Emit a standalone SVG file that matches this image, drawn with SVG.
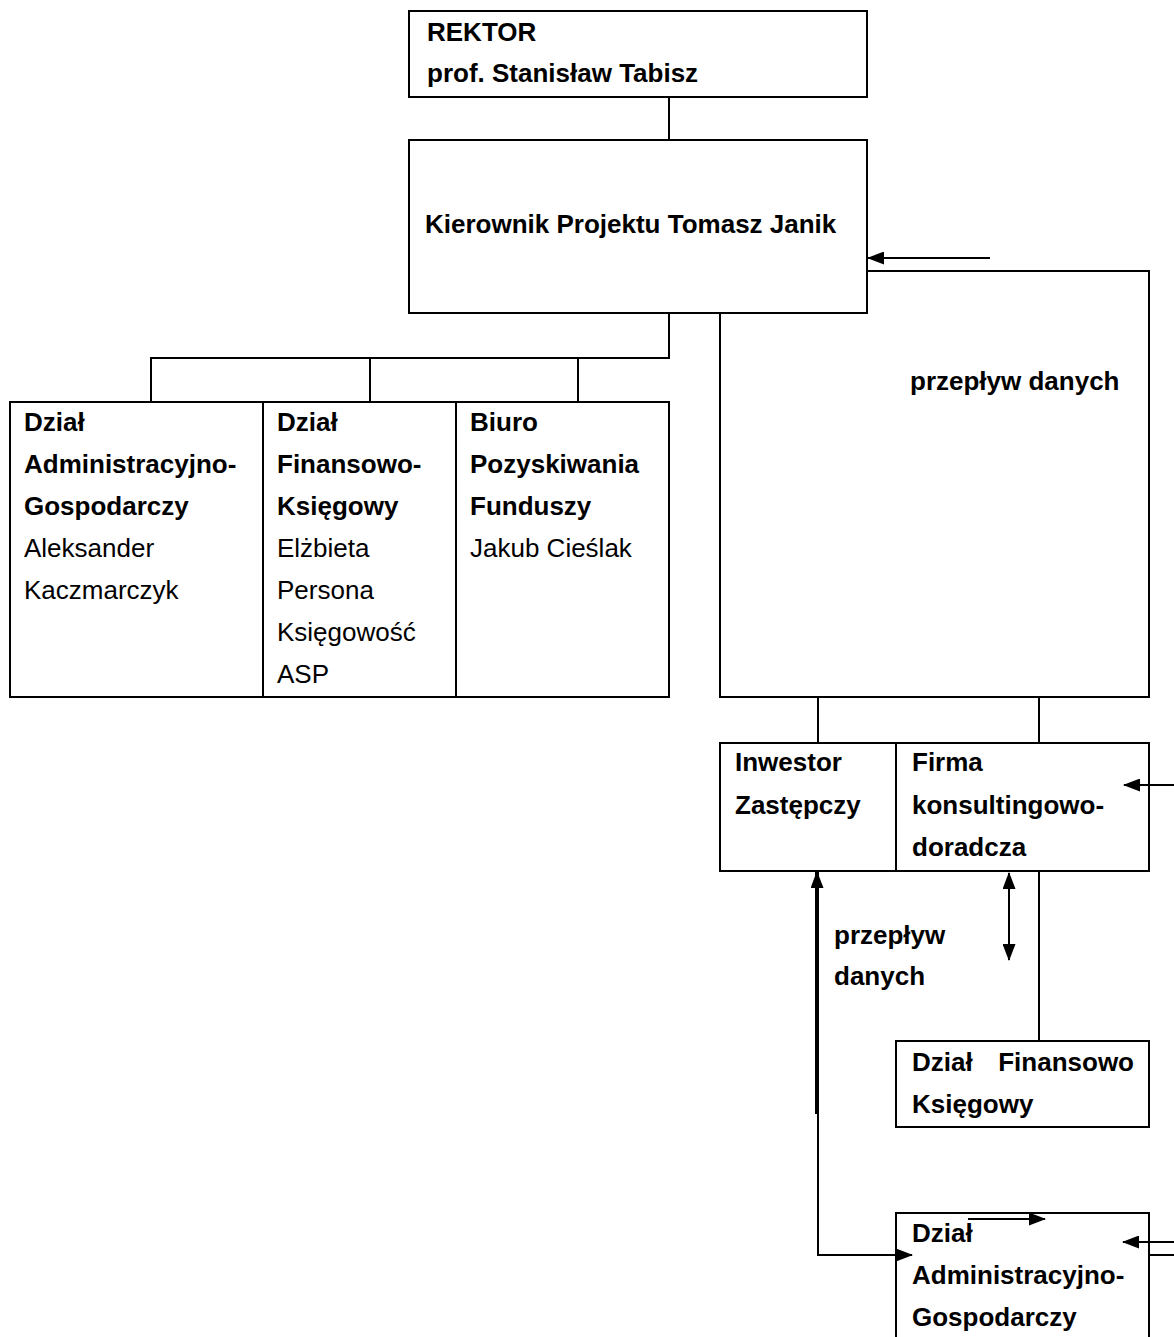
<svg xmlns="http://www.w3.org/2000/svg" width="1174" height="1337" viewBox="0 0 1174 1337">
<style>
  .box{fill:#fff;stroke:#000;stroke-width:2}
  .ln{fill:none;stroke:#000;stroke-width:2}
  .thick{fill:none;stroke:#000;stroke-width:4}
  text{font-family:"Liberation Sans",Arial,sans-serif;font-size:26px;fill:#000}
  .b{font-weight:bold}
</style>
<defs>
  <marker id="ah" markerWidth="17" markerHeight="13" refX="16" refY="6.5" orient="auto" markerUnits="userSpaceOnUse">
    <path d="M0,0 L17,6.5 L0,13 Z" fill="#000"/>
  </marker>
  <marker id="ahs" markerWidth="17" markerHeight="13" refX="1" refY="6.5" orient="auto" markerUnits="userSpaceOnUse">
    <path d="M17,0 L0,6.5 L17,13 Z" fill="#000"/>
  </marker>
</defs>
<rect width="1174" height="1337" fill="#fff"/>

<g id="rektor">
  <rect class="box" x="409" y="11" width="458" height="86"/>
  <text class="b" x="427" y="41">REKTOR</text>
  <text class="b" x="427" y="82">prof. Stanisław Tabisz</text>
</g>

<g id="kierownik">
  <rect class="box" x="409" y="140" width="458" height="173"/>
  <text class="b" x="425" y="233">Kierownik Projektu Tomasz Janik</text>
</g>

<g id="dzialy">
  <rect class="box" x="10" y="402" width="659" height="295"/>
  <line class="ln" x1="263" y1="402" x2="263" y2="697"/>
  <line class="ln" x1="456" y1="402" x2="456" y2="697"/>
  <g id="dzial-admin">
    <text class="b" x="24" y="431">Dział</text>
    <text class="b" x="24" y="473">Administracyjno-</text>
    <text class="b" x="24" y="515">Gospodarczy</text>
    <text x="24" y="557">Aleksander</text>
    <text x="24" y="599">Kaczmarczyk</text>
  </g>
  <g id="dzial-fin">
    <text class="b" x="277" y="431">Dział</text>
    <text class="b" x="277" y="473">Finansowo-</text>
    <text class="b" x="277" y="515">Księgowy</text>
    <text x="277" y="557">Elżbieta</text>
    <text x="277" y="599">Persona</text>
    <text x="277" y="641">Księgowość</text>
    <text x="277" y="683">ASP</text>
  </g>
  <g id="biuro">
    <text class="b" x="470" y="431">Biuro</text>
    <text class="b" x="470" y="473">Pozyskiwania</text>
    <text class="b" x="470" y="515">Funduszy</text>
    <text x="470" y="557">Jakub Cieślak</text>
  </g>
</g>

<g id="inwestor-firma">
  <rect class="box" x="720" y="743" width="429" height="128"/>
  <line class="ln" x1="896" y1="743" x2="896" y2="871"/>
  <text class="b" x="735" y="771">Inwestor</text>
  <text class="b" x="735" y="814">Zastępczy</text>
  <text class="b" x="912" y="771">Firma</text>
  <text class="b" x="912" y="814">konsultingowo-</text>
  <text class="b" x="912" y="856">doradcza</text>
</g>

<g id="dzial-fin-2">
  <rect class="box" x="896" y="1041" width="253" height="86"/>
  <text class="b" x="912" y="1071">Dział</text>
  <text class="b" x="1134" y="1071" text-anchor="end">Finansowo</text>
  <text class="b" x="912" y="1113">Księgowy</text>
</g>

<g id="dzial-admin-2">
  <rect class="box" x="896" y="1213" width="253" height="140"/>
  <text class="b" x="912" y="1242">Dział</text>
  <text class="b" x="912" y="1284">Administracyjno-</text>
  <text class="b" x="912" y="1326">Gospodarczy</text>
</g>

<g id="connectors">
  <line class="ln" x1="669" y1="97" x2="669" y2="140"/>
  <polyline class="ln" points="669,313 669,358 151,358 151,402"/>
  <line class="ln" x1="370" y1="358" x2="370" y2="402"/>
  <line class="ln" x1="578" y1="358" x2="578" y2="402"/>
  <polyline class="ln" points="867,271 1149,271 1149,697 720,697 720,313"/>
  <line class="ln" x1="990" y1="258" x2="868" y2="258" marker-end="url(#ah)"/>
  <line class="ln" x1="818" y1="697" x2="818" y2="743"/>
  <line class="ln" x1="1039" y1="697" x2="1039" y2="743"/>
  <line class="ln" x1="1174" y1="785" x2="1124" y2="785" marker-end="url(#ah)"/>
  <line class="ln" x1="1039" y1="871" x2="1039" y2="1041"/>
  <line class="ln" x1="1009" y1="873" x2="1009" y2="960" marker-start="url(#ahs)" marker-end="url(#ah)"/>
  <line class="thick" x1="817" y1="1114" x2="817" y2="872" marker-end="url(#ah)"/>
  <polyline class="ln" points="818,1112 818,1255 912,1255" marker-end="url(#ah)"/>
  <line class="ln" x1="968" y1="1219" x2="1045" y2="1219" marker-end="url(#ah)"/>
  <line class="ln" x1="1174" y1="1242" x2="1123" y2="1242" marker-end="url(#ah)"/>
  <line class="ln" x1="1149" y1="1255" x2="1174" y2="1255"/>
</g>

<text class="b" x="910" y="390">przepływ danych</text>
<text class="b" x="834" y="944">przepływ</text>
<text class="b" x="834" y="985">danych</text>
</svg>
